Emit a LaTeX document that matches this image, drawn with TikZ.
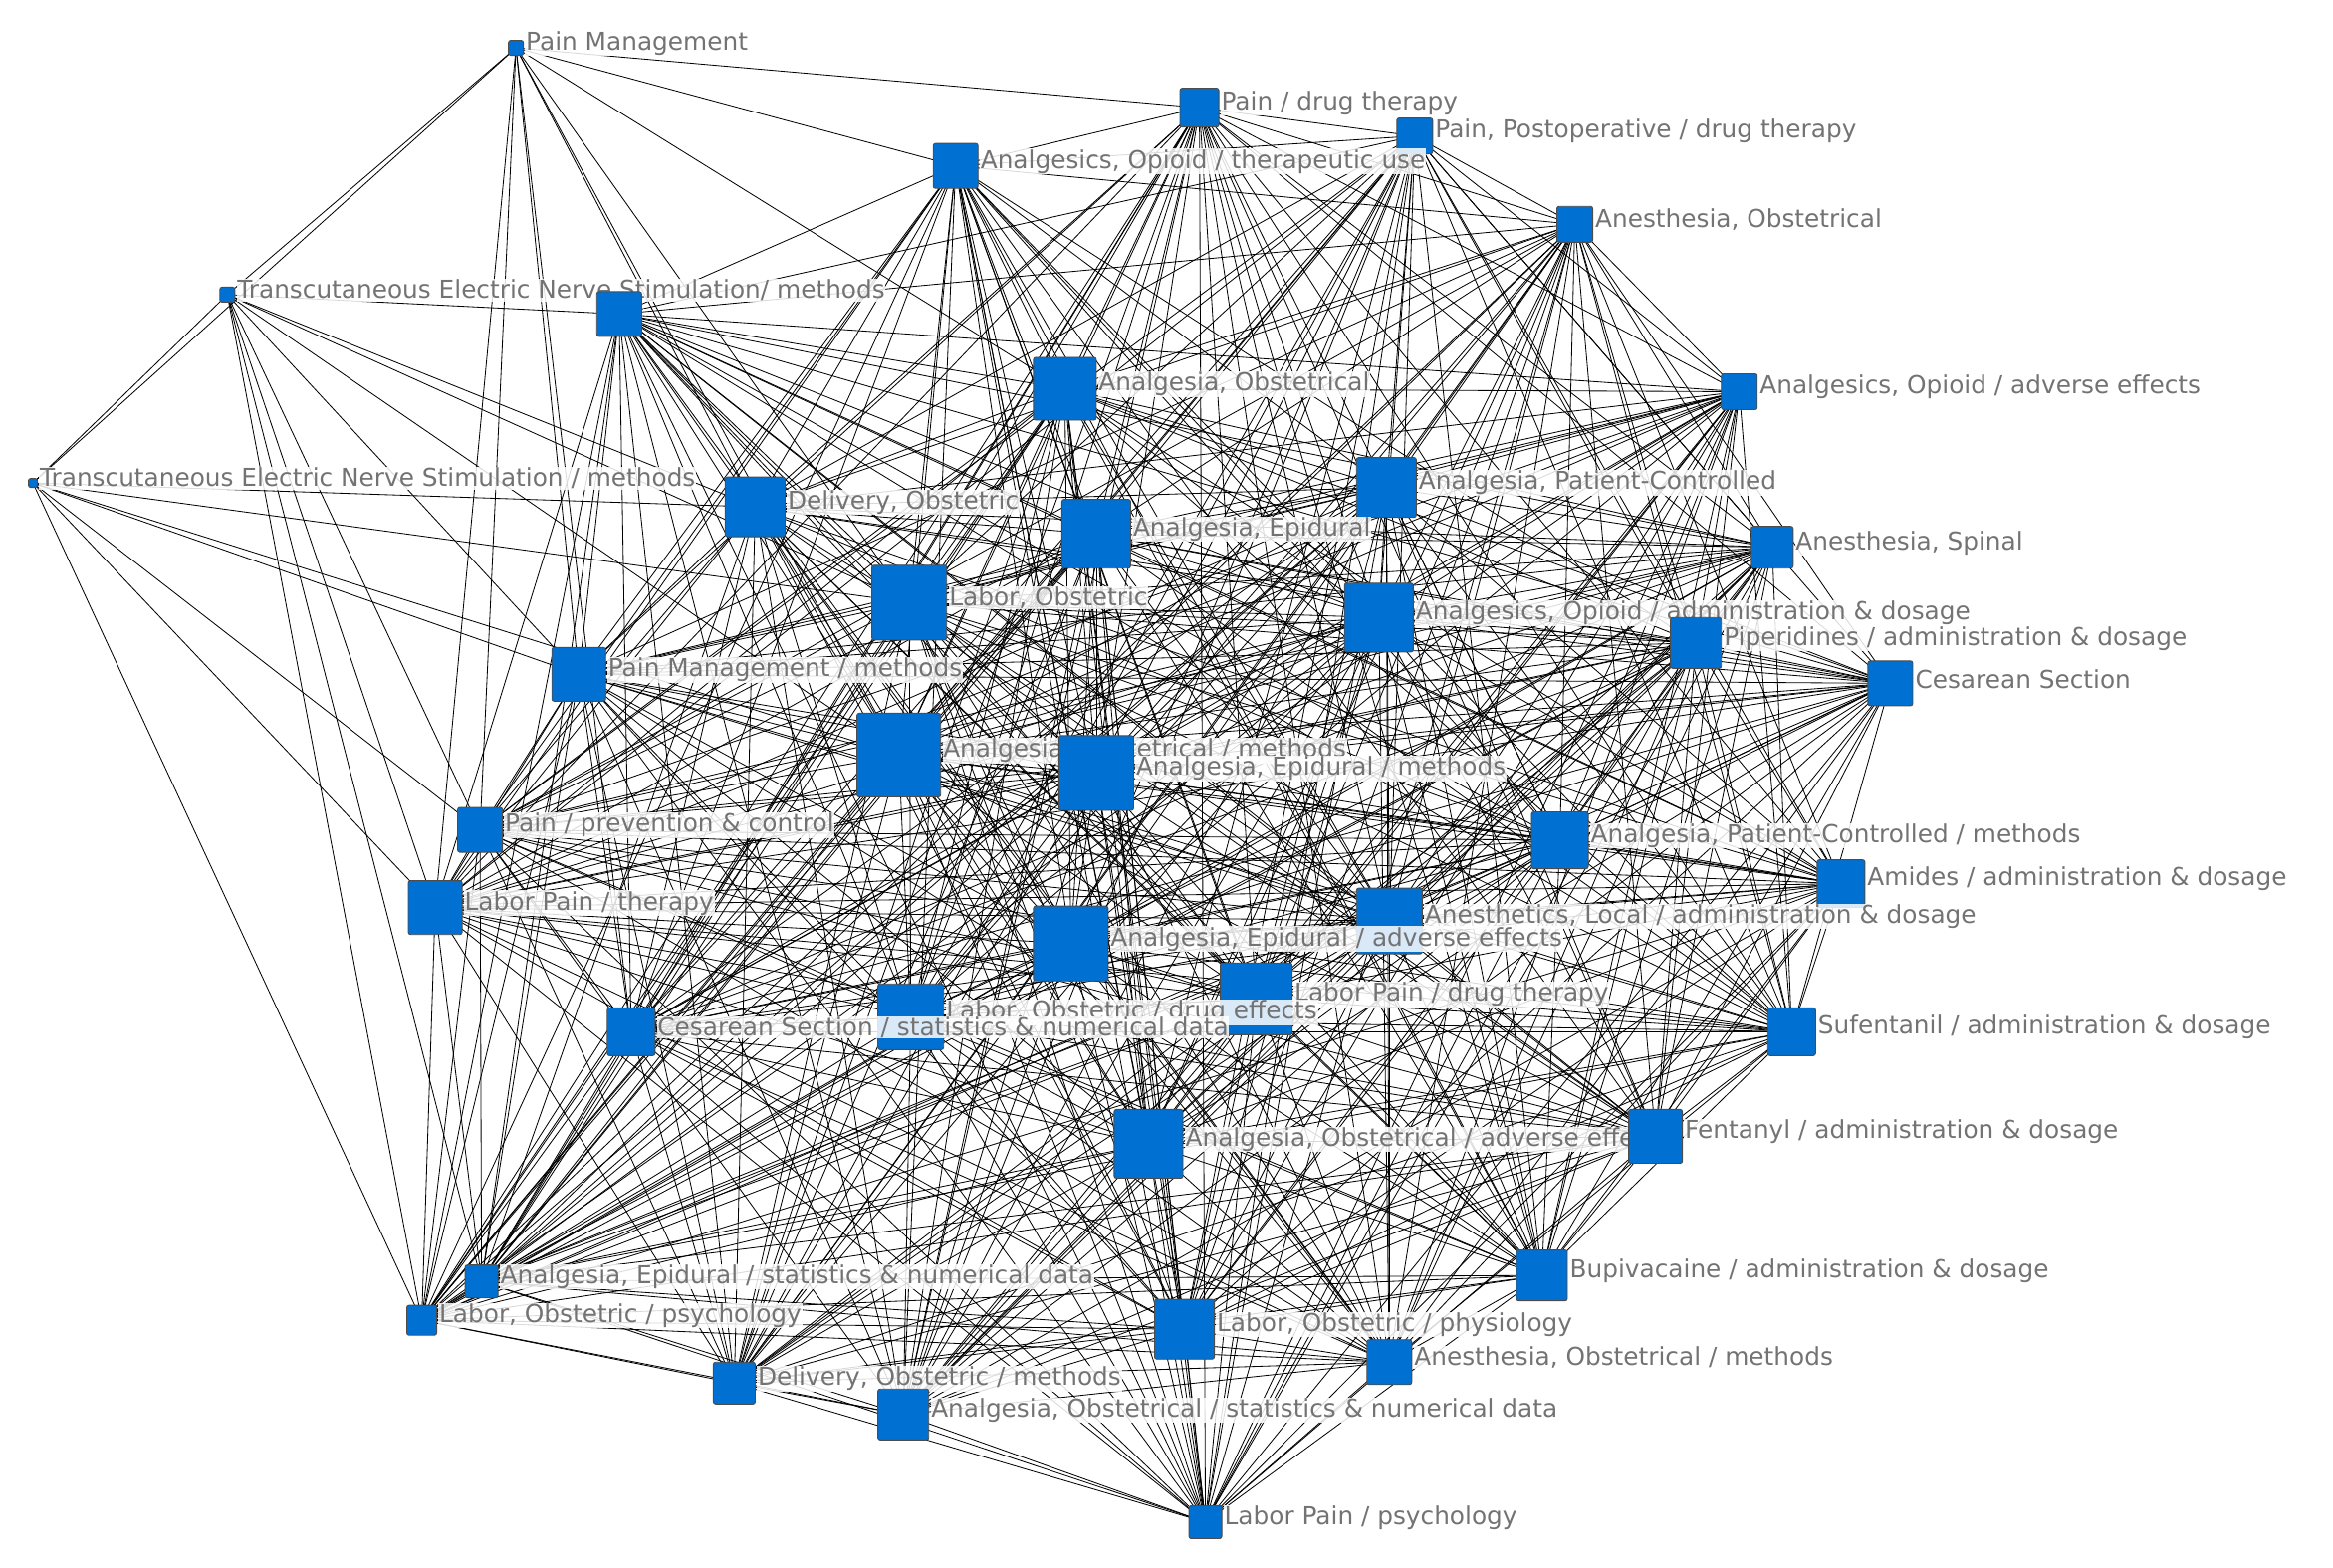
\documentclass[tikz,border=0pt]{standalone}
\usepackage{fontspec}
\setmainfont{DejaVu Sans}
\begin{document}
\begin{tikzpicture}[x=1pt,y=-1pt,
 nd/.style={draw=black!70,fill={rgb,255:red,0;green,112;blue,210},rounded corners=1.5pt,inner sep=0pt,line width=0.6pt},
 lb/.style={anchor=west,text=black!55,fill=white,fill opacity=0.85,text opacity=1,inner sep=0.5pt,font=\fontsize{16.5}{16.5}\selectfont},
 ed/.style={line width=0.55pt,black}]
\useasboundingbox (0,0) rectangle (1560,1048);
\def\nodelist{
1/345/32/10/{Pain Management},
2/802/72/26/{Pain / drug therapy},
3/946/91/24/{Pain, Postoperative / drug therapy},
4/639/111/30/{Analgesics, Opioid / therapeutic use},
5/1053/150/24/{Anesthesia, Obstetrical},
6/152/197/10/{Transcutaneous Electric Nerve Stimulation/ methods},
7/414/210/30/{},
8/712/260/42/{Analgesia, Obstetrical},
9/1163/262/24/{Analgesics, Opioid / adverse effects},
10/22/323/6/{Transcutaneous Electric Nerve Stimulation / methods},
11/505/339/40/{Delivery, Obstetric},
12/927/326/40/{Analgesia, Patient-Controlled},
13/733/357/46/{Analgesia, Epidural},
14/1185/366/28/{Anesthesia, Spinal},
15/608/403/50/{Labor, Obstetric},
16/922/413/46/{Analgesics, Opioid / administration \& dosage},
17/1134/430/34/{Piperidines / administration \& dosage},
18/387/451/36/{Pain Management / methods},
19/1264/457/30/{Cesarean Section},
20/601/505/56/{Analgesia, Obstetrical / methods},
21/733/517/50/{Analgesia, Epidural / methods},
22/321/555/30/{Pain / prevention \& control},
23/1043/562/38/{Analgesia, Patient-Controlled / methods},
24/1231/591/32/{Amides / administration \& dosage},
25/291/607/36/{Labor Pain / therapy},
26/929/616/44/{Anesthetics, Local / administration \& dosage},
27/716/631/50/{Analgesia, Epidural / adverse effects},
28/840/668/48/{Labor Pain / drug therapy},
29/609/680/44/{Labor, Obstetric / drug effects},
30/422/690/32/{Cesarean Section / statistics \& numerical data},
31/1198/690/32/{Sufentanil / administration \& dosage},
32/768/765/46/{Analgesia, Obstetrical / adverse effects},
33/1107/760/36/{Fentanyl / administration \& dosage},
34/322/857/22/{Analgesia, Epidural / statistics \& numerical data},
35/1031/853/34/{Bupivacaine / administration \& dosage},
36/282/883/20/{Labor, Obstetric / psychology},
37/792/889/40/{Labor, Obstetric / physiology},
38/929/911/30/{Anesthesia, Obstetrical / methods},
39/491/925/28/{Delivery, Obstetric / methods},
40/604/946/34/{Analgesia, Obstetrical / statistics \& numerical data},
41/806/1018/22/{Labor Pain / psychology}}
\foreach \n/\x/\y/\s/\t in \nodelist
{\coordinate (n\n) at (\x,\y); \coordinate (p\n) at (\x+\s/2+1,\y-3);}
\foreach \i in {2,...,41}{
 \foreach \j in {2,...,41}{
  \ifnum\i<\j \ifnum\i=6\else\ifnum\j=6\else\ifnum\i=10\else\ifnum\j=10\else
   \pgfmathtruncatemacro\r{mod(\i*7+\j*13,5)}
   \ifnum\r>0 \draw[ed] (n\i)--(n\j);\fi
  \fi\fi\fi\fi\fi}}
\foreach \j in {2,6,10,11,18,22,25,4,15,20,30,8}{\draw[ed] (n1)--(n\j);}
\foreach \j in {10,25,18,11,15,22,20,7,34,36}{\draw[ed] (n6)--(n\j);}
\foreach \j in {25,18,22,15,11,20,36}{\draw[ed] (n10)--(n\j);}
\foreach \n/\x/\y/\s/\t in \nodelist
{\node[nd,minimum size=\s] (b\n) at (\x,\y) {};
 \node[lb] (l\n) at (p\n) {\t};}
\end{tikzpicture}
\end{document}
